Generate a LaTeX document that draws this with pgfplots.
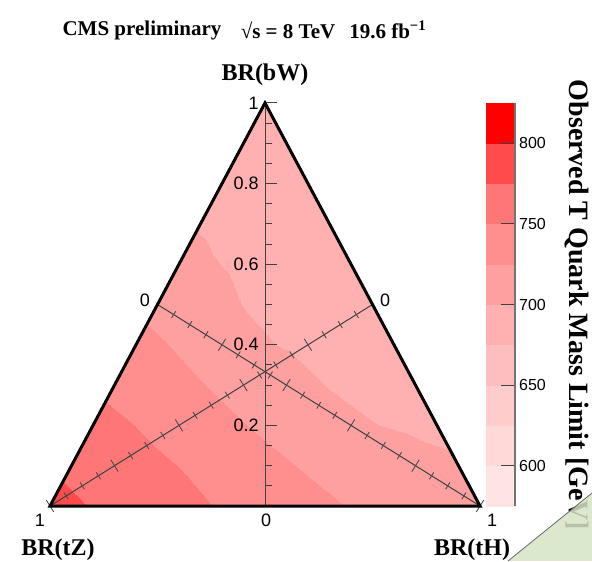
\documentclass[border=0pt]{standalone}
\usepackage{pgfplots}
\pgfplotsset{compat=1.18}
\usepackage{pgfplotstable}
\usepackage{fontspec}
\setmainfont{Liberation Serif}
\newfontfamily\arial{Liberation Sans}
\usetikzlibrary{calc}

% ternary grid: rows of constant BR(bW)=y, x = horizontal position in the triangle
\pgfplotstableread{
x y m
-0.50 0.0 785
-0.40 0.0 773.4
-0.30 0.0 765
-0.20 0.0 756.6
-0.10 0.0 748.2
0.00 0.0 739.7
0.10 0.0 731.3
0.20 0.0 724
0.30 0.0 720
0.40 0.0 716
0.50 0.0 712
-0.45 0.1 768.7
-0.36 0.1 762
-0.27 0.1 755.2
-0.18 0.1 748.1
-0.09 0.1 739.6
0.00 0.1 731.1
0.09 0.1 723.5
0.18 0.1 718.3
0.27 0.1 713
0.36 0.1 707.8
0.45 0.1 702.5
-0.40 0.2 757.2
-0.32 0.2 751.4
-0.24 0.2 744.1
-0.16 0.2 736.2
-0.08 0.2 728.3
0.00 0.2 721.1
0.08 0.2 714.4
0.16 0.2 707.6
0.24 0.2 700.8
0.32 0.2 698.1
0.40 0.2 696
-0.35 0.3 744.9
-0.28 0.3 738.3
-0.21 0.3 731.6
-0.14 0.3 725
-0.07 0.3 718.7
0.00 0.3 712.4
0.07 0.3 706.1
0.14 0.3 699.9
0.21 0.3 697.3
0.28 0.3 694.6
0.35 0.3 692
-0.30 0.4 731.1
-0.24 0.4 726.5
-0.18 0.4 720.7
-0.12 0.4 714.1
-0.06 0.4 707.6
0.00 0.4 701.1
0.06 0.4 698.5
0.12 0.4 696.3
0.18 0.4 694
0.24 0.4 691.7
0.30 0.4 689
-0.25 0.5 718.9
-0.20 0.5 714.1
-0.15 0.5 709.3
-0.10 0.5 704.5
-0.05 0.5 699.7
0.00 0.5 697.7
0.05 0.5 695.6
0.10 0.5 693.4
0.15 0.5 691.3
0.20 0.5 689.1
0.25 0.5 687
-0.20 0.6 707.9
-0.16 0.6 704.4
-0.12 0.6 700.9
-0.08 0.6 698.6
-0.04 0.6 696.7
0.00 0.6 694.9
0.04 0.6 693.0
0.08 0.6 691.1
0.12 0.6 689.2
0.16 0.6 687.4
0.20 0.6 685.5
-0.15 0.7 698.5
-0.12 0.7 697.1
-0.09 0.7 695.7
-0.06 0.7 694.3
-0.03 0.7 692.9
0.00 0.7 691.5
0.03 0.7 690.1
0.06 0.7 688.7
0.09 0.7 687.3
0.12 0.7 685.9
0.15 0.7 684.5
-0.10 0.8 694
-0.08 0.8 693
-0.06 0.8 691.9
-0.04 0.8 690.9
-0.02 0.8 689.8
0.00 0.8 688.8
0.02 0.8 687.7
0.04 0.8 686.7
0.06 0.8 685.6
0.08 0.8 684.6
0.10 0.8 683.5
-0.05 0.9 688
-0.04 0.9 687.5
-0.03 0.9 686.9
-0.02 0.9 686.4
-0.01 0.9 685.8
0.00 0.9 685.3
0.01 0.9 684.7
0.02 0.9 684.2
0.03 0.9 683.6
0.04 0.9 683.1
0.05 0.9 682.5
0.00 1.0 682
0.00 1.0 682
0.00 1.0 682
0.00 1.0 682
0.00 1.0 682
0.00 1.0 682
0.00 1.0 682
0.00 1.0 682
0.00 1.0 682
0.00 1.0 682
0.00 1.0 682
}\brdata

\begin{document}
\begin{tikzpicture}[x=1pt,y=1pt]
\path[use as bounding box] (-25,-27.5) rectangle (271,253);
\begin{axis}[
  at={(0,0)}, anchor=south west,
  scale only axis, width=215pt, height=201.5pt,
  xmin=-0.5, xmax=0.5, ymin=0, ymax=1,
  view={0}{90},
  hide axis,
  clip=false,
  colormap={tq}{rgb255=(255,228,228) rgb255=(255,216,216) rgb255=(255,204,204)
    rgb255=(255,190,190) rgb255=(255,176,176) rgb255=(255,160,160)
    rgb255=(255,143,143) rgb255=(255,118,118) rgb255=(255,75,75)
    rgb255=(255,0,0)},
  colormap access=piecewise constant,
  point meta min=575, point meta max=825,
  colorbar,
  colorbar style={
    at={(parent axis.north east)}, anchor=north west, xshift=-5.5pt,
    scale only axis, width=14.5pt, height=201.5pt,
    ytick={600,650,700,750,800},
    yticklabel style={font=\arial\fontsize{8}{9}\selectfont, xshift=-1.5pt},
    /pgf/number format/assume math mode=true,
    major tick length=7pt, tick align=inside,
    axis x line=none, axis y line*=right,
    y axis line style={draw=black!55, line width=0.6pt},
    ytick style={draw=black!75, line width=0.6pt},
  },
]
\addplot3[surf, shader=interp, mesh/cols=11, mesh/ordering=x varies]
  table[x=x, y=y, z=m, meta=m] {\brdata};
\coordinate (BL) at (axis cs:-0.5,0,700);
\coordinate (BR) at (axis cs:0.5,0,700);
\coordinate (TP) at (axis cs:0,1,700);
\coordinate (O)  at (axis cs:0,0,700);
\coordinate (LM) at (axis cs:-0.25,0.5,700);
\coordinate (RM) at (axis cs:0.25,0.5,700);
\end{axis}

% axes inside the triangle
\draw[line width=0.5pt, black!75] (O) -- (TP);
\draw[line width=0.5pt, black!75] (BL) -- (RM);
\draw[line width=0.5pt, black!75] (BR) -- (LM);
\coordinate (F1) at ($(BL)!2!(RM)$);
\coordinate (F2) at ($(BR)!2!(LM)$);
\foreach \i in {0,...,20}{
  \pgfmathsetmacro\f{\i/20}
  \pgfmathtruncatemacro\mj{mod(\i,4)==0}
  \ifnum\mj=1 \def\L{3.5pt}\def\Lv{6pt}\else\def\L{2pt}\def\Lv{3.5pt}\fi
  \coordinate (P) at ($(BL)!\f!(RM)$);
  \draw[line width=0.45pt, black!70] ($(P)!\L!90:(F1)$) -- ($(P)!\L!-90:(F1)$);
  \coordinate (Q) at ($(BR)!\f!(LM)$);
  \draw[line width=0.45pt, black!70] ($(Q)!\L!90:(F2)$) -- ($(Q)!\L!-90:(F2)$);
  \coordinate (V) at ($(O)!\f!(TP)$);
  \draw[line width=0.5pt, black!75] (V) -- ++(\Lv,0);
}
% triangle frame
\draw[line width=1.5pt, line join=miter] (BL) -- (BR) -- (TP) -- cycle;

% tick labels
\foreach \v in {0.2,0.4,0.6,0.8,1}{
  \node[anchor=east, inner sep=0pt, font=\arial\fontsize{9}{10}\selectfont]
    at ($(O)!\v!(TP)+(-3pt,0)$) {\v};
}
\begin{scope}[font=\arial\fontsize{9}{10}\selectfont]
\node at (108,-7) {0};
\node at (-5,-7) {1};
\node at (221,-7) {1};
\node at (47.5,103) {0};
\node at (167.5,103) {0};
\end{scope}

% axis names and title
\begin{scope}[font=\bfseries\fontsize{12}{14}\selectfont]
\node at (107.5,215.5) {BR(bW)};
\node at (4,-22) {BR(tZ)};
\node at (211,-22) {BR(tH)};
\end{scope}
\begin{scope}[font=\bfseries\fontsize{10.5}{12}\selectfont]
\node at (46,238) {CMS preliminary};
\node at (119,238) {√s = 8 TeV};
\node at (169,238) {19.6 fb\textsuperscript{−1}};
\end{scope}
\node[rotate=-90, font=\bfseries\fontsize{14}{16}\selectfont] at (263.5,100.5)
  {Observed T Quark Mass Limit [GeV]};

% page corner
\fill[fill={rgb,255:red,214;green,228;blue,198}, opacity=0.85] (229,-27.5) -- (271,6.5) -- (271,-27.5) -- cycle;
\draw[line width=0.4pt, black!60] (229,-27.5) -- (271,6.5);
\end{tikzpicture}
\end{document}
